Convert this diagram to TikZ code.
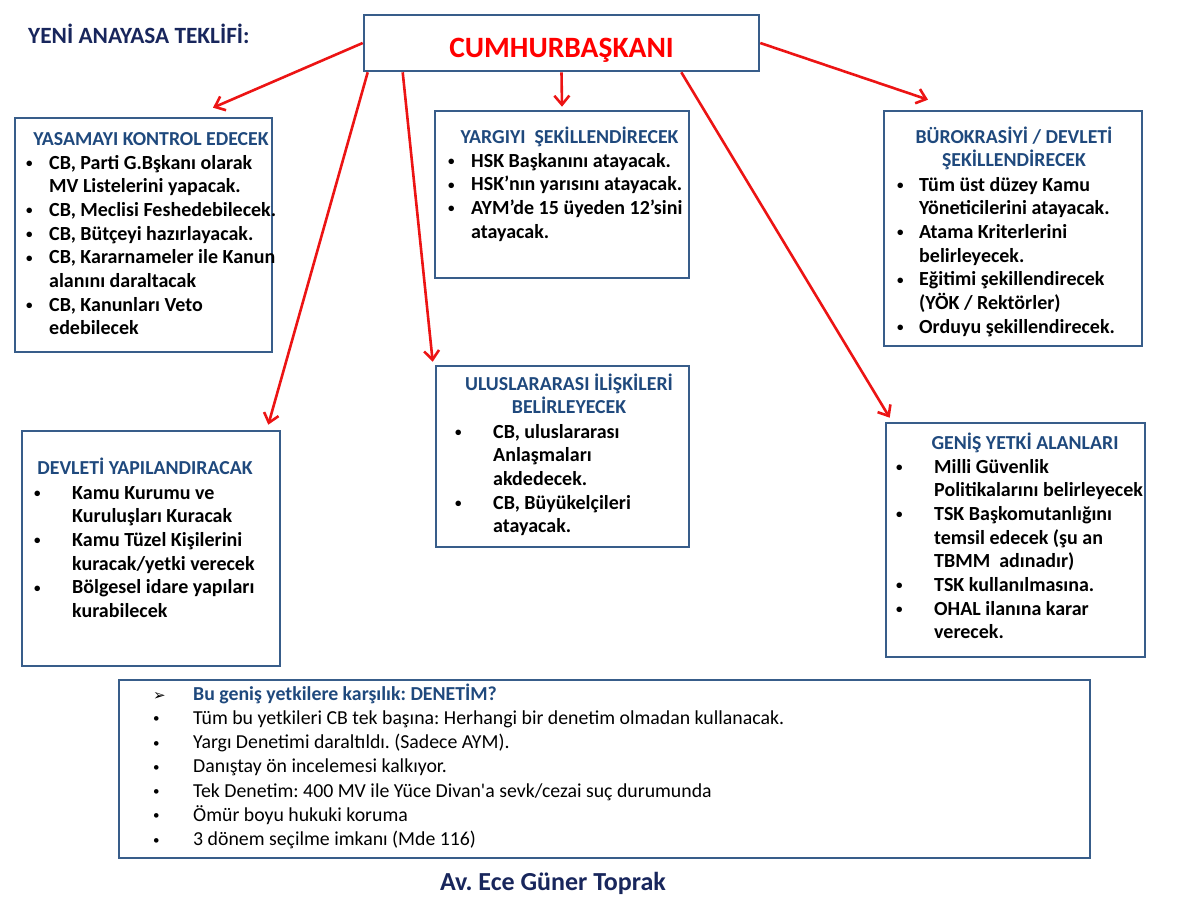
\documentclass[tikz,border=0pt]{standalone}
\usepackage{fontspec}
\setmainfont{Carlito}
\newfontfamily\symfont{DejaVu Sans}
\usepackage{tikz}
\usetikzlibrary{arrows.meta,positioning}
\frenchspacing
\definecolor{frame}{RGB}{56,93,138}
\definecolor{headblue}{RGB}{31,73,125}
\definecolor{navy}{RGB}{24,38,92}
\definecolor{arrowred}{RGB}{236,20,20}
\newcommand{\blist}[2]{\begin{tabular}[t]{@{}p{#1}@{}l@{}}#2\end{tabular}}
\newcommand{\bul}{\raisebox{1.6pt}{\fontsize{13}{13}\selectfont\textbullet}}
\tikzset{
  >={Straight Barb[length=9pt,width=15pt]},
  block/.style={rectangle, draw=frame, line width=2.6pt, inner sep=0pt},
  head/.style={anchor=base, inner sep=0pt, text=headblue, font=\fontsize{19.8}{23.5}\selectfont\bfseries},
  item/.style={anchor=base west, inner sep=0pt, font=\fontsize{20}{23.7}\selectfont\bfseries},
  note/.style={anchor=base west, inner sep=0pt, font=\fontsize{19.8}{24.3}\selectfont},
  tr/.style={->, arrowred, line width=2.6pt}
}
\begin{document}
\begin{tikzpicture}[x=1pt,y=-1pt]
    \useasboundingbox (0,0) rectangle (1200,900);

    % === Title and top box ===
    \node[anchor=base west, inner sep=0pt, text=navy, font=\fontsize{23.3}{27}\selectfont\bfseries] (title) at (28,43) {YENİ ANAYASA TEKLİFİ:};
    \node[block, minimum width=395pt, minimum height=56pt] (cb) at (561.5,43) {};
    \node[anchor=base, inner sep=0pt, text=red, font=\fontsize{29.5}{33}\selectfont\bfseries] (cbT) at (561.5,57) {CUMHURBAŞKANI};

    % === Boxes ===
    \node[block, minimum width=257pt, minimum height=234pt] (yasama) at (143.5,235) {};
    \node[block, minimum width=254pt, minimum height=167pt] (yargi) at (562,194.5) {};
    \node[block, minimum width=258pt, minimum height=235pt] (burokrasi) at (1013,228.5) {};
    \node[block, minimum width=258pt, minimum height=235pt] (devlet) at (151,548.5) {};
    \node[block, minimum width=253pt, minimum height=181pt] (dis) at (562.5,456.5) {};
    \node[block, minimum width=259pt, minimum height=234pt] (yetki) at (1015.5,540) {};
    \node[block, minimum width=971pt, minimum height=178pt] (denetim) at (604.5,769) {};

    % === Box texts ===
    \node[head] (yasamaH) at (151,145) {YASAMAYI KONTROL EDECEK};
    \node[item] (yasamaL) at (26,169) {\blist{23pt}{%
      \bul & CB, Parti G.Bşkanı olarak\\
           & MV Listelerini yapacak.\\
      \bul & CB, Meclisi Feshedebilecek.\\
      \bul & CB, Bütçeyi hazırlayacak.\\
      \bul & CB, Kararnameler ile Kanun\\
           & alanını daraltacak\\
      \bul & CB, Kanunları Veto\\
           & edebilecek}};

    \node[head] (yargiH) at (569.5,143) {YARGIYI\ \ ŞEKİLLENDİRECEK};
    \node[item] (yargiL) at (448,167) {\blist{23pt}{%
      \bul & HSK Başkanını atayacak.\\
      \bul & HSK’nın yarısını atayacak.\\
      \bul & AYM’de 15 üyeden 12’sini\\
           & atayacak.}};

    \node[head] (burokrasiH) at (1014,143) {\begin{tabular}[t]{@{}c@{}}BÜROKRASİYİ / DEVLETİ\\ ŞEKİLLENDİRECEK\end{tabular}};
    \node[item] (burokrasiL) at (897,191) {\blist{22pt}{%
      \bul & Tüm üst düzey Kamu\\
           & Yöneticilerini atayacak.\\
      \bul & Atama Kriterlerini\\
           & belirleyecek.\\
      \bul & Eğitimi şekillendirecek\\
           & (YÖK / Rektörler)\\
      \bul & Orduyu şekillendirecek.}};

    \node[head] (devletH) at (145,474) {DEVLETİ YAPILANDIRACAK};
    \node[item] (devletL) at (34,499) {\blist{38pt}{%
      \bul & Kamu Kurumu ve\\
           & Kuruluşları Kuracak\\
      \bul & Kamu Tüzel Kişilerini\\
           & kuracak/yetki verecek\\
      \bul & Bölgesel idare yapıları\\
           & kurabilecek}};

    \node[head] (disH) at (569,390) {\begin{tabular}[t]{@{}c@{}}ULUSLARARASI İLİŞKİLERİ\\ BELİRLEYECEK\end{tabular}};
    \node[item] (disL) at (455,438) {\blist{38pt}{%
      \bul & CB, uluslararası\\
           & Anlaşmaları\\
           & akdedecek.\\
      \bul & CB, Büyükelçileri\\
           & atayacak.}};

    \node[head] (yetkiH) at (1025,449) {GENİŞ YETKİ ALANLARI};
    \node[item] (yetkiL) at (896,473) {\blist{38pt}{%
      \bul & Milli Güvenlik\\
           & Politikalarını belirleyecek\\
      \bul & TSK Başkomutanlığını\\
           & temsil edecek (şu an\\
           & TBMM\ \ adınadır)\\
      \bul & TSK kullanılmasına.\\
      \bul & OHAL ilanına karar\\
           & verecek.}};

    % === Bottom box ===
    \node[note] (denetimL) at (153,700) {\blist{40pt}{%
      {\symfont\fontsize{15}{20}\selectfont ➢} & \textcolor{headblue}{\bfseries Bu geniş yetkilere karşılık: DENETİM?}\\
      \bul & Tüm bu yetkileri CB tek başına: Herhangi bir denetim olmadan kullanacak.\\
      \bul & Yargı Denetimi daraltıldı. (Sadece AYM).\\
      \bul & Danıştay ön incelemesi kalkıyor.\\
      \bul & Tek Denetim: 400 MV ile Yüce Divan\textquotesingle a sevk/cezai suç durumunda\\
      \bul & Ömür boyu hukuki koruma\\
      \bul & 3 dönem seçilme imkanı (Mde 116)}};

    \node[anchor=base, inner sep=0pt, text=navy, font=\fontsize{26}{30}\selectfont\bfseries] (author) at (553,890) {Av. Ece Güner Toprak};

    % === Arrows ===
    \draw[tr] (cb.west) -- ([xshift=69.5pt,yshift=9pt]yasama.north);
    \draw[tr] ([xshift=5pt]cb.south west) -- ([xshift=-13pt,yshift=5pt]devlet.north east);
    \draw[tr] ([xshift=40pt]cb.south west) -- ([xshift=-2pt,yshift=3pt]dis.north west);
    \draw[tr] (cb.south) -- ([yshift=3pt]yargi.north);
    \draw[tr] ([xshift=-79pt]cb.south east) -- ([xshift=5pt,yshift=4pt]yetki.north west);
    \draw[tr] (cb.east) -- ([xshift=-85pt,yshift=10pt]burokrasi.north);

\end{tikzpicture}
\end{document}
